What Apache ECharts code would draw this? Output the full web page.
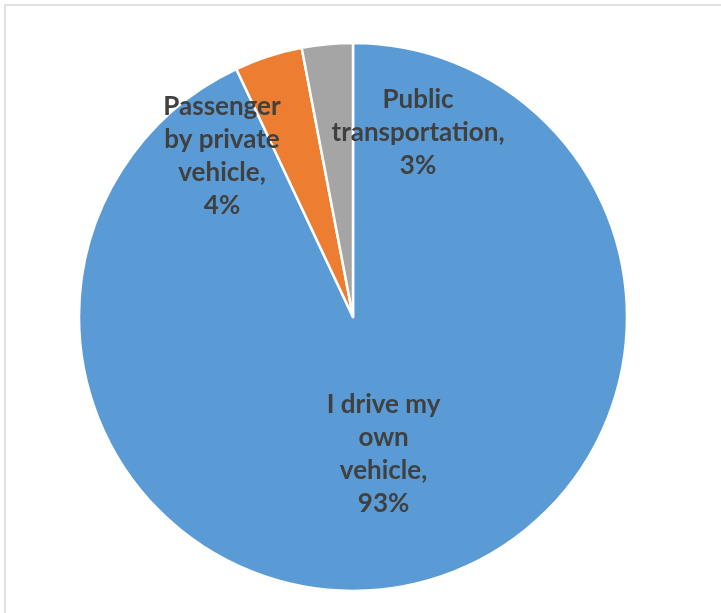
<!DOCTYPE html>
<html>
<head>
<meta charset="utf-8">
<script src="https://cdn.jsdelivr.net/npm/echarts@6/dist/echarts.min.js"></script>
<style>
  html, body { margin: 0; padding: 0; background: #fff; }
  #chart { width: 721px; height: 613px; }
</style>
</head>
<body>
<div id="chart"></div>
<script>
// Commute mode shares (percent), clockwise from 12 o'clock
const categories = ['I drive my own vehicle', 'Passenger by private vehicle', 'Public transportation'];
const values = [93, 4, 3];
const colors = ['#5B9BD5', '#ED7D31', '#A5A5A5'];
// Wrapped label text for each slice
const labelLines = [
  ['I drive my', 'own', 'vehicle,'],
  ['Passenger', 'by private', 'vehicle,'],
  ['Public', 'transportation,']
];
// Label anchors for the two small slices (placed in the open space beside them)
const labelAnchors = { 1: [222, 156], 2: [418, 133] };

const chart = echarts.init(document.getElementById('chart'), null, { renderer: 'canvas' });

chart.setOption({
  animation: false,
  backgroundColor: '#fff',
  graphic: [{
    type: 'rect',
    shape: { x: 5, y: 5, width: 900, height: 900 },
    style: { fill: 'none', stroke: '#d9d9d9', lineWidth: 1.5 },
    silent: true,
    z: -1
  }],
  series: [{
    type: 'pie',
    center: [353, 317],
    radius: 274,
    startAngle: 90,
    clockwise: true,
    itemStyle: { borderColor: '#fff', borderWidth: 2.5 },
    labelLine: { show: false },
    label: {
      show: true,
      position: 'inside',
      fontFamily: 'Lato',
      fontWeight: 'bold',
      fontSize: 26,
      lineHeight: 33,
      color: '#404040',
      align: 'center',
      formatter: p => labelLines[p.dataIndex].concat(p.value + '%').join('\n')
    },
    labelLayout: params => {
      const a = labelAnchors[params.dataIndex];
      if (!a) return {};
      return { x: a[0], y: a[1], align: 'center', verticalAlign: 'middle' };
    },
    data: categories.map((name, i) => ({
      name,
      value: values[i],
      itemStyle: { color: colors[i] }
    }))
  }]
});
</script>
</body>
</html>
